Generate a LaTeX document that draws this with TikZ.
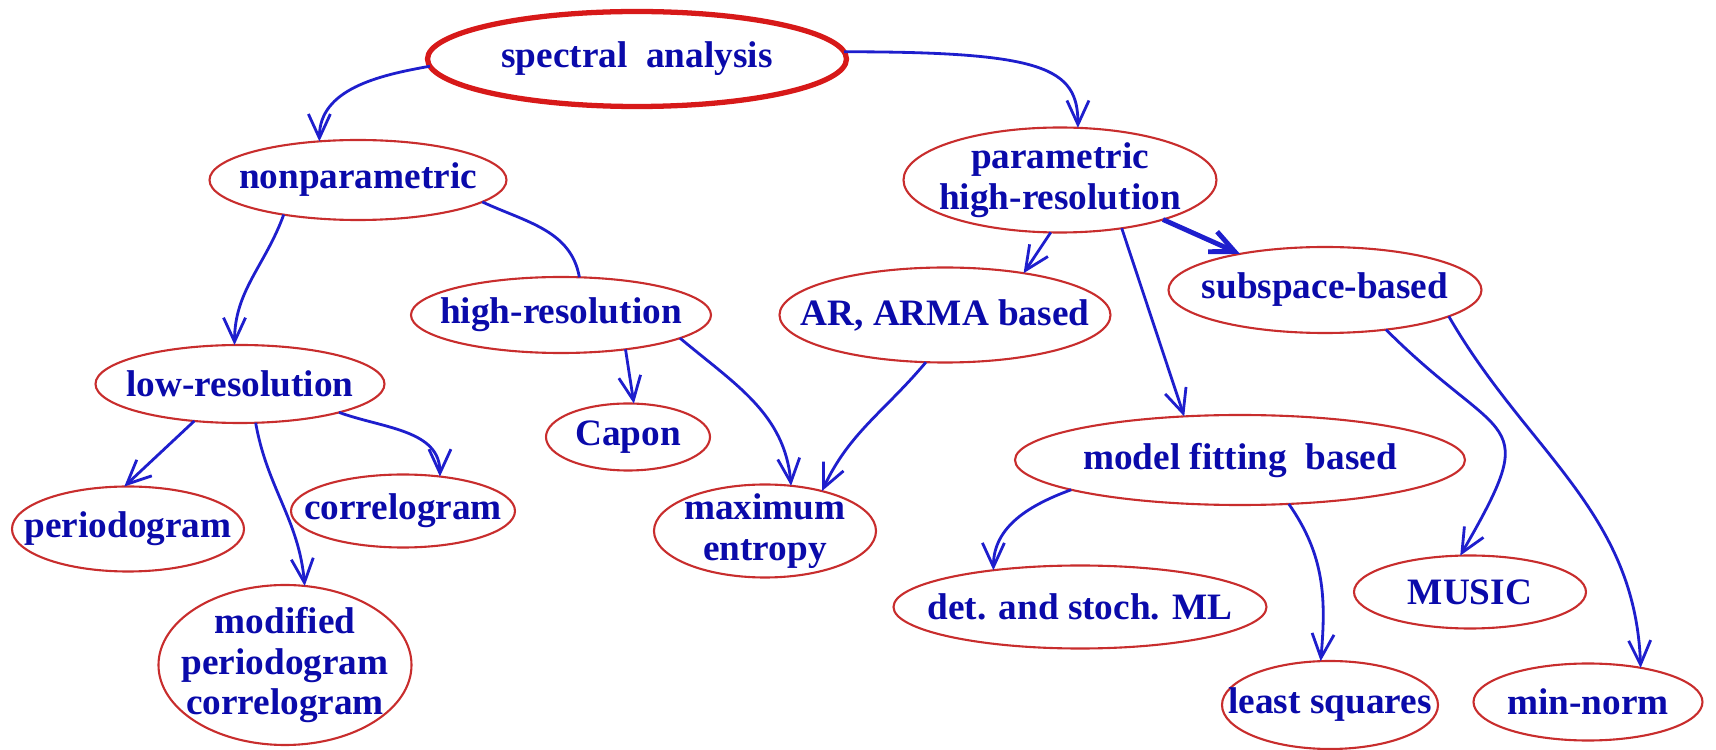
\documentclass[tikz,border=0pt]{standalone}
\usepackage{fontspec}
\setmainfont{Liberation Serif}
\usetikzlibrary{shapes.geometric}
\usetikzlibrary{arrows.meta}
\usepackage{xcolor}

\definecolor{inkblue}{RGB}{10,10,170}
\definecolor{lineblue}{RGB}{30,30,205}
\definecolor{penred}{RGB}{200,45,45}
\definecolor{topred}{RGB}{215,25,25}

\tikzset{
  blob/.style={ellipse, draw=penred, line width=0.6pt, text=inkblue,
    font=\bfseries\fontsize{10.6}{11.5}\selectfont, align=center,
    inner xsep=-4mm, inner ysep=-1mm, outer sep=0pt},
  sz/.style 2 args={minimum width=#1cm, minimum height=#2cm},
  link/.style={lineblue, line width=0.8pt,
    -{Straight Barb[length=2.4mm,width=2.2mm]}},
}

\begin{document}
\begin{tikzpicture}
% \draw[lightgray] (0,0) grid (17,8);
\useasboundingbox (0,0) rectangle (17.16,7.5);

\node[blob, draw=topred, line width=1.5pt, sz={4.19}{0.95}] (spec) at (6.37,6.91) {spectral\ \ analysis};

\node[blob, sz={2.97}{0.80}] (nonpar) at (3.58,5.70) {nonparametric};
\node[blob, sz={3.13}{1.05}] (par) at (10.60,5.70) {parametric\\high-resolution};

\node[blob, sz={3.00}{0.76}] (hres) at (5.61,4.35) {high-resolution};
\node[blob, sz={3.31}{0.95}] (arma) at (9.45,4.35) {AR, ARMA based};
\node[blob, sz={3.13}{0.86}] (subsp) at (13.25,4.60) {subspace-based};

\node[blob, sz={2.89}{0.78}] (lowres) at (2.40,3.66) {low-resolution};
\node[blob, sz={1.64}{0.67}] (capon) at (6.28,3.13) {Capon};
\node[blob, sz={4.50}{0.90}] (model) at (12.40,2.90) {model fitting\ \ based};

\node[blob, sz={2.32}{0.85}] (period) at (1.28,2.21) {periodogram};
\node[blob, sz={2.24}{0.73}] (correl) at (4.03,2.39) {correlogram};
\node[blob, sz={2.22}{0.93}] (maxent) at (7.65,2.19) {maximum\\entropy};
\node[blob, sz={2.53}{1.60}] (modif) at (2.85,0.85) {modified\\periodogram\\correlogram};

\node[blob, sz={3.73}{0.83}] (detml) at (10.80,1.43) {det. and stoch. ML};
\node[blob, sz={2.32}{0.73}] (music) at (14.70,1.58) {MUSIC};
\node[blob, sz={2.16}{0.88}] (lsq) at (13.30,0.45) {least squares};
\node[blob, sz={2.29}{0.77}] (minnorm) at (15.88,0.48) {min-norm};

\draw[link] (spec.182) to[out=190,in=90] (nonpar.135);
\draw[link] (spec.2) .. controls +(2.0,0) and +(0,0.6) .. (par.71);

\draw[link] (nonpar.205) to[out=250,in=90] (lowres.98);
\draw[link,-] (nonpar.350) to[out=-25,in=100] (hres.64);

\draw[link] (hres.-28) -- (capon.80);
\draw[link] (hres.-11) to[out=-40,in=95] (maxent.60);
\draw[link] (arma.248) to[out=230,in=65] (maxent.35);

\draw[link] (par.260) -- (arma.28);
\draw[link, line width=1.4pt] (par.-21) -- (subsp.157);
\draw[link] (par.-38) -- (model.142);
\draw[link] (subsp.-33) to[out=-45,in=60,looseness=1.8] (music.105);
\draw[link] (subsp.-12) to[out=-60,in=92] (minnorm.33);

\draw[link] (lowres.219) -- (period.95);
\draw[link] (lowres.-68) to[out=-80,in=95] (modif.76);
\draw[link] (lowres.-16) to[out=-20,in=90] (correl.43);

\draw[link] (model.190) to[out=200,in=90] (detml.157);
\draw[link] (model.-42) to[out=-55,in=85] (lsq.102);

\end{tikzpicture}
\end{document}
